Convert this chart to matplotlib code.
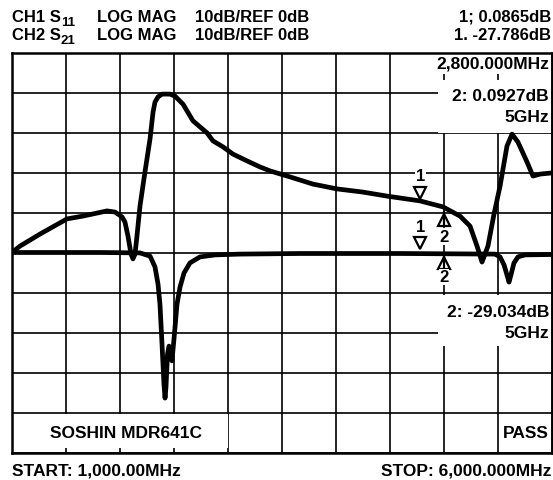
import matplotlib
matplotlib.use("Agg")
import matplotlib.pyplot as plt
import matplotlib.transforms as mtransforms
from matplotlib.patches import Rectangle
import numpy as np

plt.rcParams['font.family'] = ['Liberation Sans', 'DejaVu Sans']
plt.rcParams['font.weight'] = 'bold'

# S11 trace (MHz, dB)
s11_freq = [1000, 1074, 1259, 1509, 1657, 1880, 1954, 2019, 2046, 2074, 2102, 2120,
            2139, 2157, 2185, 2231, 2278, 2306, 2324, 2352, 2389, 2463, 2509, 2583,
            2676, 2741, 2806, 2861, 2954, 3046, 3176, 3296, 3389, 3574, 3787, 4009,
            4250, 4472, 4778, 4991, 5148, 5241, 5306, 5352, 5407, 5463, 5519, 5583,
            5630, 5685, 5769, 5824, 5889, 6000]
s11_db = [0.0, 1.6, 4.6, 8.4, 9.1, 10.4, 10.1, 8.9, 7.6, 4.1, -0.4, -1.6,
          -0.4, 4.1, 11.6, 20.1, 28.4, 35.1, 37.6, 38.9, 39.6, 39.6, 39.1, 37.1,
          32.9, 31.4, 29.9, 27.9, 26.4, 24.6, 22.9, 21.4, 20.4, 18.9, 17.1, 15.9,
          15.1, 14.1, 12.9, 11.4, 9.1, 6.6, 1.6, -2.4, 1.6, 9.6, 16.6, 26.6,
          29.6, 27.6, 22.6, 19.1, 19.6, 19.9]

# S21 trace (MHz, dB)
s21_freq = [1000, 1815, 2185, 2278, 2324, 2352, 2370, 2389, 2407, 2417, 2426, 2440,
            2454, 2472, 2481, 2500, 2528, 2556, 2593, 2648, 2741, 2880, 3111, 3667,
            4593, 5472, 5519, 5556, 5583, 5602, 5620, 5648, 5685, 5750, 6000]
s21_db = [0.0, 0.0, -0.1, -0.9, -3.6, -7.9, -12.9, -22.9, -32.9, -36.4, -33.6, -25.4,
          -23.4, -25.4, -27.1, -21.6, -12.9, -8.6, -5.1, -2.6, -1.1, -0.6, -0.4, -0.25,
          -0.25, -0.4, -1.1, -3.1, -5.6, -7.4, -5.6, -2.6, -1.1, -0.6, -0.5]

marker1_freq = 4780
marker2_freq = 5000

header_ch = [("CH1 S", "11"), ("CH2 S", "21")]
header_mid = ["LOG MAG", "10dB/REF 0dB"]
header_right = ["1; 0.0865dB", "1. -27.786dB"]

W, H = 553, 481
fig = plt.figure(figsize=(W / 100, H / 100), dpi=100)
fig.patch.set_facecolor('white')

# plot box in pixels: x 12..552, y 53.5..453.5
ax = fig.add_axes([12 / W, (H - 453.5) / H, 540 / W, 400 / H])
ax.set_xlim(1000, 6000)
ax.set_ylim(-50, 50)
ax.set_xticks(np.linspace(1000, 6000, 11))
ax.set_yticks(np.arange(-50, 51, 10))
ax.tick_params(length=0, labelbottom=False, labelleft=False)
ax.set_axisbelow(True)
ax.grid(True, color='black', lw=1.2)
for sp in ax.spines.values():
    sp.set_linewidth(1.8)
    sp.set_zorder(10)

BIG = 12.5


def px_box(x0, y0, x1, y1):
    # rectangle given in image pixels, drawn in axes fraction
    ax.add_patch(Rectangle(((x0 - 12) / 540, (453.5 - y1) / 400),
                           (x1 - x0) / 540, (y1 - y0) / 400,
                           transform=ax.transAxes, facecolor='white',
                           edgecolor='none', zorder=2))


def px_text(x, y, s, ha='right', size=BIG):
    ax.text((x - 12) / 540, (453.5 - y) / 400, s, transform=ax.transAxes,
            ha=ha, va='center', fontsize=size, fontweight='bold', zorder=6)


# annotation boxes
px_box(422, 54, 551, 75)
px_text(549, 64, "2,800.000MHz")
px_box(438, 81, 551, 134)
px_text(549, 97, "2: 0.0927dB")
px_text(549, 118, "5GHz")
px_box(438, 296, 551, 347)
px_text(549, 313, "2: -29.034dB")
px_text(549, 334, "5GHz")
px_box(13, 415, 228, 449)
px_text(126, 434, "SOSHIN MDR641C", ha='center')
px_box(499, 415, 551, 449)
px_text(549, 434, "PASS")

# traces
ax.plot(s11_freq, s11_db, color='black', lw=3.4, solid_joinstyle='round',
        solid_capstyle='round', zorder=3)
ax.plot(s21_freq, s21_db, color='black', lw=3.4, solid_joinstyle='round',
        solid_capstyle='round', zorder=3)


def offset(dy_px):
    return ax.transData + mtransforms.ScaledTranslation(0, dy_px / 100,
                                                        fig.dpi_scale_trans)


def marker1(freq, fr, db, tri_dy, lab_dy):
    v = np.interp(freq, fr, db)
    ax.plot([freq], [v], marker='v', ms=9, mfc='white', mec='black', mew=1.6,
            transform=offset(tri_dy), zorder=5)
    ax.text(freq, v, "1", transform=offset(lab_dy), ha='center', va='center',
            fontsize=12, fontweight='bold', zorder=6,
            bbox=dict(facecolor='white', edgecolor='none', pad=0.5))


def marker2(freq, fr, db, tri_dy, lab_dy):
    v = np.interp(freq, fr, db)
    ax.plot([freq], [v], marker='^', ms=9, mfc='white', mec='black', mew=1.6,
            transform=offset(tri_dy), zorder=5)
    ax.plot([freq], [v], marker='|', ms=11, mec='black', mew=1.6,
            transform=offset(tri_dy + 1), zorder=5)
    ax.text(freq, v, "2", transform=offset(lab_dy), ha='center', va='center',
            fontsize=12, fontweight='bold', zorder=6,
            bbox=dict(facecolor='white', edgecolor='none', pad=0.5))


marker1(marker1_freq, s11_freq, s11_db, 8, 25)
marker1(marker1_freq, s21_freq, s21_db, 11, 27)
marker2(marker2_freq, s11_freq, s11_db, -13, -29)
marker2(marker2_freq, s21_freq, s21_db, -9, -23)

# header
renderer = fig.canvas.get_renderer()
for i, (ch, sub) in enumerate(header_ch):
    ybase = 22 + 18.5 * i
    yb = 1 - ybase / H
    t = fig.text(12 / W, yb, ch, ha='left', va='baseline', fontsize=12,
                 fontweight='bold')
    x_end = t.get_window_extent(renderer).x1
    fig.text(x_end / W, 1 - (ybase + 4) / H, sub, ha='left', va='baseline',
             fontsize=9.5, fontweight='bold')
    fig.text(97 / W, yb, header_mid[0], ha='left', va='baseline', fontsize=12,
             fontweight='bold')
    fig.text(195 / W, yb, header_mid[1], ha='left', va='baseline', fontsize=12,
             fontweight='bold')
    fig.text(551 / W, yb, header_right[i], ha='right', va='baseline',
             fontsize=12, fontweight='bold')

# footer
fig.text(12 / W, 1 - 476 / H, "START: 1,000.00MHz", ha='left', va='baseline',
         fontsize=BIG, fontweight='bold')
fig.text(551 / W, 1 - 476 / H, "STOP: 6,000.000MHz", ha='right', va='baseline',
         fontsize=BIG, fontweight='bold')

fig.savefig("out.png", dpi=100, facecolor='white')
